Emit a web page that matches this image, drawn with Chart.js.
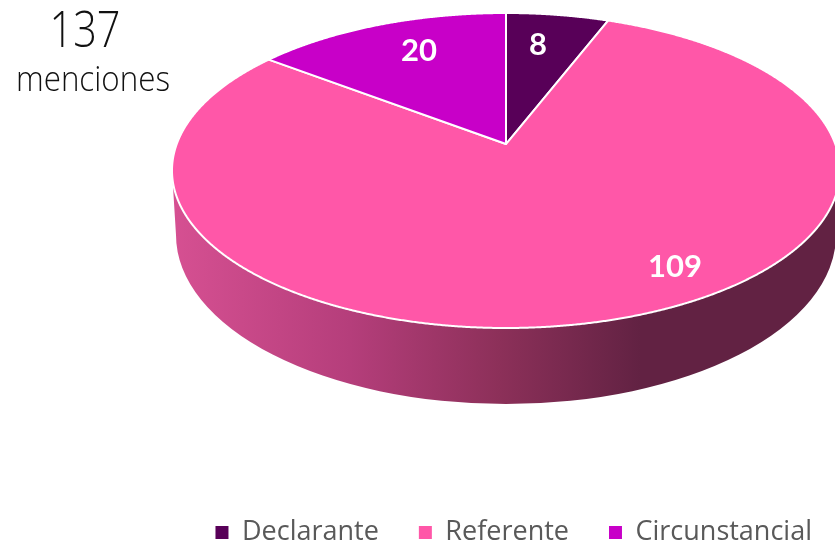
<!DOCTYPE html>
<html><head><meta charset="utf-8">
<style>html,body{margin:0;padding:0;background:#fff}#w{position:relative;width:835px;height:542px;overflow:hidden}</style>
<script src="https://cdn.jsdelivr.net/npm/chart.js@4/dist/chart.umd.min.js"></script>
</head><body><div id="w"><canvas id="c" width="835" height="542"></canvas></div>
<script>
const categories = ['Declarante', 'Referente', 'Circunstancial'];
const values = [8, 109, 20];
const colours = ['#580058', '#ff57a8', '#c800c8'];
const totalLabel = ['137', 'menciones'];

const G = {cx:506, cy:170.5, rx:334, ry:157.5, k:0.168,
           lcx:506, lcy:235, lrx:330, lry:169};
const labelAnchors = [[538,45],[675,267],[419,51]];

function project(t){
  const ux=Math.cos(t), uy=Math.sin(t), a=Math.sqrt(1-G.k*G.k), d=1-G.k*uy;
  return [G.cx+G.rx*a*ux/d, G.cy-G.ry*(-uy+G.k)/d];
}
const pie3d = {
  id:'pie3d',
  beforeDatasetDraw(chart){
    const ctx=chart.ctx, arcs=chart.getDatasetMeta(0).data;
    ctx.save();
    const g=ctx.createLinearGradient(172,0,836,0);
    [[0,'#d65092'],[0.268,'#b53e7b'],[0.494,'#8c3059'],[0.705,'#622243'],[1,'#622243']]
      .forEach(s=>g.addColorStop(s[0],s[1]));
    ctx.beginPath();
    ctx.ellipse(G.cx,G.cy,G.rx,G.ry,0,Math.PI,0,true);
    ctx.lineTo(G.lcx+G.lrx,G.lcy);
    ctx.ellipse(G.lcx,G.lcy,G.lrx,G.lry,0,0,Math.PI,false);
    ctx.closePath();
    ctx.fillStyle=g; ctx.fill();
    arcs.forEach((el,i)=>{
      const apex=[G.cx, G.cy-G.ry*G.k];
      ctx.beginPath(); ctx.moveTo(apex[0],apex[1]);
      const n=Math.ceil((el.endAngle-el.startAngle)/0.004);
      for(let j=0;j<=n;j++){
        const p=project(el.startAngle+(el.endAngle-el.startAngle)*j/n);
        ctx.lineTo(p[0],p[1]);
      }
      ctx.closePath();
      ctx.fillStyle=colours[i]; ctx.fill();
      ctx.strokeStyle='#fff'; ctx.lineWidth=2; ctx.lineJoin='round'; ctx.stroke();
    });
    ctx.fillStyle='#fff'; ctx.font='700 31px Lato'; ctx.textAlign='center'; ctx.textBaseline='middle';
    values.forEach((v,i)=>ctx.fillText(String(v),labelAnchors[i][0],labelAnchors[i][1]));
    ctx.fillStyle='#111';
    ctx.font='300 50px "Open Sans"'; ctx.fillText(totalLabel[0],85,33,71);
    ctx.font='300 35px "Open Sans"'; ctx.fillText(totalLabel[1],93,81,154);
    ctx.restore();
    return false;
  }
};
new Chart(document.getElementById('c'),{
  type:'pie',
  data:{labels:categories,datasets:[{data:values,backgroundColor:colours,borderWidth:0}]},
  plugins:[pie3d],
  options:{
    responsive:false,animation:false,
    layout:{padding:{left:0,right:-17,top:0,bottom:-14}},
    plugins:{
      tooltip:{enabled:false},
      legend:{position:'bottom',align:'end',
        labels:{boxWidth:13,boxHeight:13,padding:40,color:'#595959',font:{family:'"Open Sans"',size:27}}}
    }
  }
});
</script></body></html>
